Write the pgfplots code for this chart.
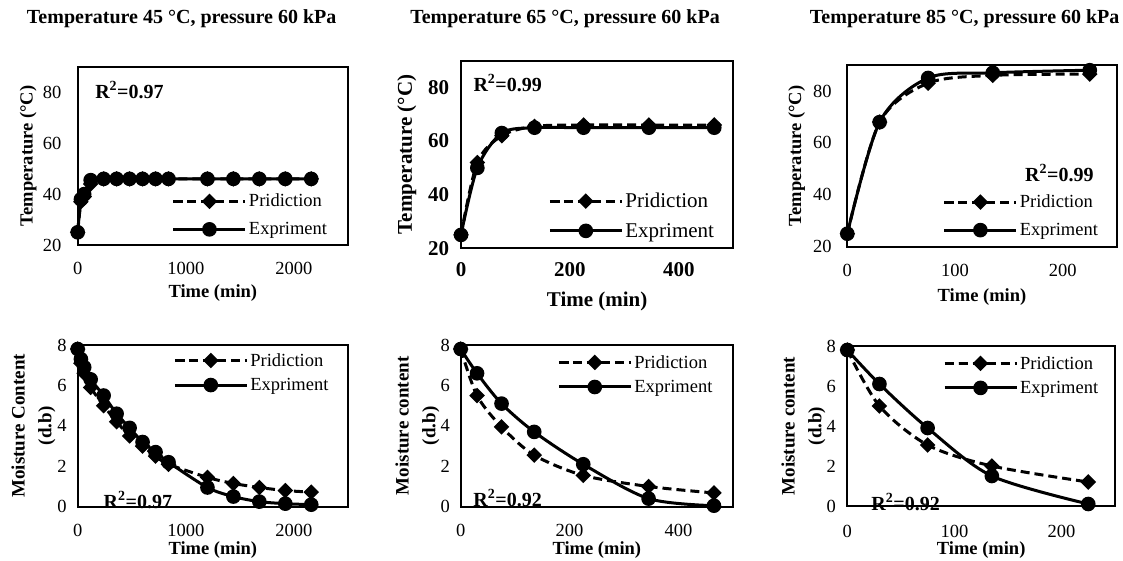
\documentclass[border=0pt]{standalone}
\usepackage{fontspec}
\setmainfont{Liberation Serif}
\usepackage{pgfplots}
\pgfplotsset{compat=1.18}
\newcommand\fs[1]{\fontsize{#1}{#1}\selectfont}

\pgfplotsset{
  panel/.style={
    scale only axis, clip=false,
    axis line style={line width=2.2pt},
    major tick length=0pt,
    /pgf/number format/assume math mode=true,
    /pgf/number format/1000 sep={},
    tick label style={inner sep=0pt, font=\fs{18.5}},
    label style={font=\bfseries\fs{18.5}},
    xlabel={Time (min)},
    legend cell align=left,
    legend style={draw=none, fill=none, anchor=north west, font=\fs{18.5},
      inner sep=0pt, row sep=10pt, nodes={inner sep=2pt}},
    legend image code/.code={\draw[mark repeat=2,mark phase=2,##1] plot coordinates {(0pt,0pt) (36pt,0pt) (72pt,0pt)};},
  },
  pred/.style={black, line width=3pt, smooth, dash pattern=on 9pt off 5pt,
    mark=square*, mark size=4pt, mark options={solid, rotate=45}},
  expm/.style={black, line width=3pt, smooth, mark=*, mark size=5.8pt, mark options={solid}},
  temp/.style={ymin=20, ymax=90, ytick={20,40,60,80}, ylabel={Temperature (°C)}},
  moist/.style={ymin=0, ymax=8, ytick={0,2,4,6,8},
    legend style={row sep=6.5pt},
    ylabel style={align=center, font=\bfseries\fontsize{19}{26.7}\selectfont}},
}

\begin{document}
\begin{tikzpicture}
\useasboundingbox (0pt,0pt) rectangle (1123pt,561pt);

\node[font=\bfseries\fs{20}] at (181.7pt,542pt) {Temperature 45 °C, pressure 60 kPa};
\node[font=\bfseries\fs{20}] at (565pt,542pt) {Temperature 65 °C, pressure 60 kPa};
\node[font=\bfseries\fs{20}] at (964.7pt,542pt) {Temperature 85 °C, pressure 60 kPa};

% ---------- top row: temperature ----------
\begin{axis}[panel, temp, at={(77.7pt,316pt)}, anchor=south west,
  width=270.3pt, height=178pt, xmin=0, xmax=2500, xtick={0,1000,2000},
  xticklabel style={anchor=center, yshift=-23.3pt},
  yticklabel style={anchor=east, xshift=-16pt},
  xlabel style={at={(axis description cs:0.5,-0.270)}, anchor=center},
  ylabel style={at={(axis description cs:-0.183,0.5)}, anchor=center},
  legend style={at={(0.348,0.298)}}]
\addplot[pred] coordinates {(0,25) (30,37) (60,39) (120,44) (240,46) (360,46) (480,46) (600,46) (720,46) (840,46) (1200,46) (1440,46) (1680,46) (1920,46) (2160,46)};
\addplot[expm] coordinates {(0,25) (30,38) (60,40) (120,45.5) (240,46) (360,46) (480,46) (600,46) (720,46) (840,46) (1200,46) (1440,46) (1680,46) (1920,46) (2160,46)};
\legend{Pridiction, Expriment}
\node[anchor=west, font=\bfseries\fs{20}] at (rel axis cs:0.052,0.871) {R\textsuperscript{2}=0.97};
\end{axis}

\begin{axis}[panel, temp, at={(461pt,312.7pt)}, anchor=south west,
  width=272.3pt, height=187.6pt, xmin=0, xmax=500, xtick={0,200,400},
  tick label style={font=\bfseries\fs{21}},
  label style={font=\bfseries\fs{21}},
  legend style={font=\fs{21}},
  xticklabel style={anchor=center, yshift=-21.7pt},
  yticklabel style={anchor=east, xshift=-11.7pt},
  xlabel style={at={(axis description cs:0.5,-0.285)}, anchor=center},
  ylabel style={at={(axis description cs:-0.199,0.5)}, anchor=center},
  legend style={at={(0.320,0.306)}}]
\addplot[pred] coordinates {(0,25) (30,52) (75,62) (135,65.5) (225,66) (345,66) (465,66)};
\addplot[expm] coordinates {(0,25) (30,50) (75,63) (135,65) (225,65) (345,65) (465,65)};
\legend{Pridiction, Expriment}
\node[anchor=west, font=\bfseries\fs{20}] at (rel axis cs:0.033,0.881) {R\textsuperscript{2}=0.99};
\end{axis}

\begin{axis}[panel, temp, at={(847.3pt,314.3pt)}, anchor=south west,
  width=269.4pt, height=181.7pt, xmin=0, xmax=250, xtick={0,100,200},
  xticklabel style={anchor=center, yshift=-23.3pt},
  yticklabel style={anchor=east, xshift=-15.6pt},
  xlabel style={at={(axis description cs:0.5,-0.275)}, anchor=center},
  ylabel style={at={(axis description cs:-0.188,0.5)}, anchor=center},
  legend style={at={(0.354,0.297)}}]
\addplot[pred] coordinates {(0,25) (30,68) (75,83) (135,86) (225,86.5)};
\addplot[expm] coordinates {(0,25) (30,68) (75,85) (135,87) (225,88)};
\legend{Pridiction, Expriment}
\node[anchor=east, font=\bfseries\fs{20}] at (rel axis cs:0.927,0.406) {R\textsuperscript{2}=0.99};
\end{axis}

% ---------- bottom row: moisture ----------
\begin{axis}[panel, moist, at={(77.7pt,54.3pt)}, anchor=south west,
  width=270.3pt, height=161.7pt, xmin=0, xmax=2500, xtick={0,1000,2000},
  ylabel={Moisture Content\\(d.b)},
  xticklabel style={anchor=center, yshift=-23.3pt},
  yticklabel style={anchor=east, xshift=-11pt},
  xlabel style={at={(axis description cs:0.5,-0.268)}, anchor=center},
  ylabel style={at={(axis description cs:-0.164,0.5)}, anchor=center},
  legend style={at={(0.353,0.962)}}]
\addplot[pred] coordinates {(0,7.8) (30,7.1) (60,6.6) (120,5.9) (240,5.0) (360,4.2) (480,3.5) (600,3.0) (720,2.5) (840,2.1) (1200,1.45) (1440,1.15) (1680,0.95) (1920,0.8) (2160,0.72)};
\addplot[expm] coordinates {(0,7.8) (30,7.3) (60,6.9) (120,6.3) (240,5.5) (360,4.6) (480,3.9) (600,3.2) (720,2.7) (840,2.2) (1200,0.95) (1440,0.5) (1680,0.25) (1920,0.15) (2160,0.1)};
\legend{Pridiction, Expriment}
\node[anchor=west, font=\bfseries\fs{20}] at (rel axis cs:0.083,0.041) {R\textsuperscript{2}=0.97};
\end{axis}

\begin{axis}[panel, moist, at={(460.7pt,54.3pt)}, anchor=south west,
  width=272.3pt, height=161.7pt, xmin=0, xmax=500, xtick={0,200,400},
  ylabel={Moisture content\\(d.b)},
  xticklabel style={anchor=center, yshift=-23.3pt},
  yticklabel style={anchor=east, xshift=-10.7pt},
  xlabel style={at={(axis description cs:0.5,-0.268)}, anchor=center},
  ylabel style={at={(axis description cs:-0.159,0.5)}, anchor=center},
  legend style={at={(0.354,0.950)}}]
\addplot[pred] coordinates {(0,7.8) (30,5.5) (75,3.95) (135,2.55) (225,1.55) (345,1.0) (465,0.68)};
\addplot[expm] coordinates {(0,7.8) (30,6.6) (75,5.1) (135,3.7) (225,2.1) (345,0.4) (465,0.05)};
\legend{Pridiction, Expriment}
\node[anchor=west, font=\bfseries\fs{20}] at (rel axis cs:0.034,0.054) {R\textsuperscript{2}=0.92};
\end{axis}

\begin{axis}[panel, moist, at={(847.3pt,55pt)}, anchor=south west,
  width=267.7pt, height=160pt, xmin=0, xmax=250, xtick={0,100,200},
  ylabel={Moisture content\\(d.b)},
  xticklabel style={anchor=center, yshift=-25.7pt},
  yticklabel style={anchor=east, xshift=-11.3pt},
  xlabel style={at={(axis description cs:0.5,-0.275)}, anchor=center},
  ylabel style={at={(axis description cs:-0.164,0.5)}, anchor=center},
  legend style={at={(0.357,0.950)}}]
\addplot[pred] coordinates {(0,7.8) (30,5.0) (75,3.05) (135,2.0) (225,1.2)};
\addplot[expm] coordinates {(0,7.8) (30,6.1) (75,3.9) (135,1.5) (225,0.1)};
\legend{Pridiction, Expriment}
\node[anchor=west, font=\bfseries\fs{20}] at (rel axis cs:0.077,0.025) {R\textsuperscript{2}=0.92};
\end{axis}
\end{tikzpicture}
\end{document}
